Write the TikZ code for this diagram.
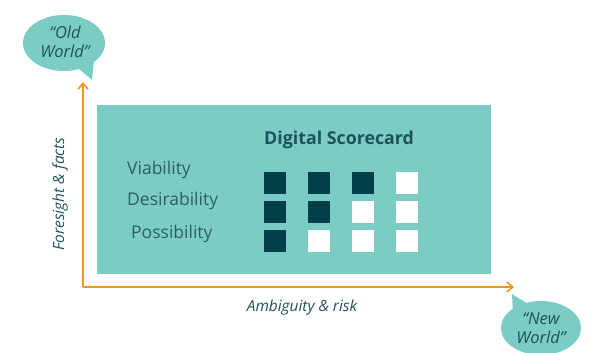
\documentclass[tikz,border=0pt]{standalone}
\usepackage{fontspec}
\setmainfont{Open Sans}
\usetikzlibrary{arrows.meta}
\definecolor{tealfill}{HTML}{7ACCC4}
\definecolor{darksq}{HTML}{023F4A}
\definecolor{axisor}{HTML}{F7941D}
\definecolor{txtdark}{HTML}{1F5358}
\definecolor{txtlab}{HTML}{2E5F62}
\tikzset{
  axis/.style={draw=axisor, line width=1.6pt, -{Straight Barb[length=6pt,width=10pt]}},
  sqfull/.style={fill=darksq, draw=none, minimum size=22pt, inner sep=0pt},
  sqempty/.style={fill=white, draw=none, minimum size=22pt, inner sep=0pt},
  rowlab/.style={anchor=west, text=txtlab, font=\fontsize{17.5}{20}\selectfont, inner sep=0pt},
  bubtxt/.style={text=txtdark, font=\itshape\fontsize{16.5}{19}\selectfont, align=center, inner sep=0pt},
  axlab/.style={text=txtdark, font=\itshape\fontsize{15.4}{18}\selectfont, inner sep=0pt}
}
\begin{document}
\begin{tikzpicture}[x=1pt,y=-1pt]
\useasboundingbox (0,0) rectangle (605,353);
% main panel
\fill[tealfill] (97,105) rectangle (491,274);
\node[text=txtdark, font=\bfseries\fontsize{17.8}{20}\selectfont, anchor=base west, inner sep=0pt] (title) at (264,144) {Digital Scorecard};
\node[rowlab] (via) at (127,170) {Viability};
\node[rowlab] (des) at (127,201) {Desirability};
\node[rowlab] (pos) at (131,234) {Possibility};
% squares
\foreach \r/\y/\n in {1/183/3, 2/212/2, 3/241/1}{
  \foreach \c/\x in {1/275, 2/319, 3/363, 4/407}{
    \ifnum\c>\n
      \node[sqempty] (s\r\c) at (\x,\y) {};
    \else
      \node[sqfull] (s\r\c) at (\x,\y) {};
    \fi
  }
}
% axes
\coordinate (origin) at (83,287);
\coordinate (ytip) at (83,82);
\coordinate (xtip) at (514,287);
\draw[axis] (origin) -- (ytip);
\draw[axis] (origin) -- (xtip);
\node[axlab, rotate=90] (ylab) at (60,194) {Foresight \& facts};
\node[axlab] (xlab) at (302,308) {Ambiguity \& risk};
% bubbles
\fill[tealfill] (64,43) ellipse [x radius=41, y radius=28];
\fill[tealfill] (78,68) -- (94,60) -- (92,80) -- cycle;
\node[bubtxt] (old) at (65,42) {“Old\\World”};
\fill[tealfill] (541,328) ellipse [x radius=40, y radius=27];
\fill[tealfill] (512,294) -- (513,312) -- (528,304) -- cycle;
\node[bubtxt] (new) at (541,328) {“New\\World”};
\end{tikzpicture}
\end{document}
